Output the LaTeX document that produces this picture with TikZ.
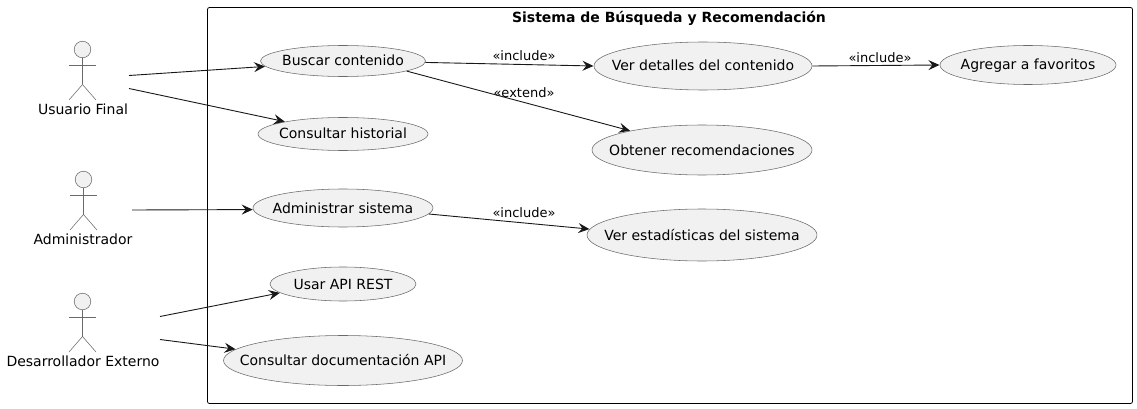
\documentclass[tikz,border=0pt]{standalone}
\usepackage{fontspec}
\setmainfont{DejaVu Sans}
\usetikzlibrary{shapes.geometric,arrows.meta}
\definecolor{ucfill}{HTML}{F1F1F1}
\definecolor{ink}{HTML}{181818}
\definecolor{thin}{HTML}{6A6A6A}
\newcommand{\uctext}[1]{\makebox[0pt]{#1}}
\tikzset{
  usecase/.style={ellipse,draw=thin,line width=0.55pt,fill=ucfill,inner sep=0pt,text height=12pt,text depth=2pt,font=\fontsize{14}{16}\selectfont,text=black},
  conn/.style={draw=ink,line width=0.9pt,-{Stealth[length=11pt,width=10pt,inset=4pt]},shorten >=0.3pt},
  edgelabel/.style={inner sep=0pt,font=\fontsize{13}{15}\selectfont,text=black},
  actorlabel/.style={inner sep=0pt,font=\fontsize{14}{16}\selectfont,text=black},
  actorline/.style={draw=thin,line width=0.55pt},
  actorhead/.style={circle,draw=thin,line width=0.55pt,fill=ucfill,minimum size=16.6pt,inner sep=0pt},
  pics/stick/.style={code={
    \draw[actorline] (0,8.3) -- (0,43);
    \draw[actorline] (-13.5,24) -- (13.5,24);
    \draw[actorline] (-13.5,58.5) -- (0,43) -- (13.5,58.5);
  }}
}
\begin{document}
\begin{tikzpicture}[x=1pt,y=-1pt]
\useasboundingbox (0,0) rectangle (1137,409);
\draw[draw=black,line width=0.8pt,rounded corners=2pt] (207.5,7.5) rectangle (1132.5,403.5);
\node[inner sep=0pt,font=\bfseries\fontsize{14}{16}\selectfont] (title) at (669,18) {Sistema de Búsqueda y Recomendación};

\pic at (82.5,41.5) {stick};
\node[actorhead] (headU) at (82.5,49.5) {};
\node[actorlabel] (labU) at (83,109) {Usuario Final};
\pic at (83.5,171.5) {stick};
\node[actorhead] (headA) at (83.5,179.5) {};
\node[actorlabel] (labA) at (83,239) {Administrador};
\pic at (82.5,293.5) {stick};
\node[actorhead] (headD) at (82.5,301.5) {};
\node[actorlabel] (labD) at (83,361) {Desarrollador Externo};

\node[usecase,minimum width=165pt,minimum height=31pt] (buscar) at (343,61) {\uctext{Buscar contenido}};
\node[usecase,minimum width=170pt,minimum height=33pt] (hist) at (343,134) {\uctext{Consultar historial}};
\node[usecase,minimum width=180pt,minimum height=38pt] (admin) at (343,208) {\uctext{Administrar sistema}};
\node[usecase,minimum width=146pt,minimum height=34pt] (api) at (343,284) {\uctext{Usar API REST}};
\node[usecase,minimum width=239pt,minimum height=50pt] (doc) at (343,360.5) {\uctext{Consultar documentación API}};
\node[usecase,minimum width=218pt,minimum height=48pt] (ver) at (703,66) {\uctext{Ver detalles del contenido}};
\node[usecase,minimum width=220pt,minimum height=50pt] (rec) at (702,150) {\uctext{Obtener recomendaciones}};
\node[usecase,minimum width=230pt,minimum height=52pt] (est) at (702,235) {\uctext{Ver estadísticas del sistema}};
\node[usecase,minimum width=176pt,minimum height=39pt] (fav) at (1028,65) {\uctext{Agregar a favoritos}};

\coordinate (u1) at (129,75.5);
\coordinate (u2) at (129,88.5);
\coordinate (a1) at (132,210);
\coordinate (d1) at (160,316.5);
\coordinate (d2) at (160,339.5);

\draw[conn] (u1) -- (buscar.184);
\draw[conn] (u2) -- (hist.168);
\draw[conn] (a1) -- (admin.181);
\draw[conn] (d1) -- (api.188);
\draw[conn] (d2) -- (doc.174);
\draw[conn] (buscar.359) -- (ver.180);
\draw[conn] (buscar.-9.5) -- (rec.165);
\draw[conn] (admin.-4.5) -- (est.177);
\draw[conn] (ver.0.5) -- (fav.180);

\node[edgelabel] (l1) at (524,55.5) {«include»};
\node[edgelabel] (l2) at (524,92.5) {«extend»};
\node[edgelabel] (l3) at (880,58) {«include»};
\node[edgelabel] (l4) at (524,213) {«include»};
\end{tikzpicture}
\end{document}
